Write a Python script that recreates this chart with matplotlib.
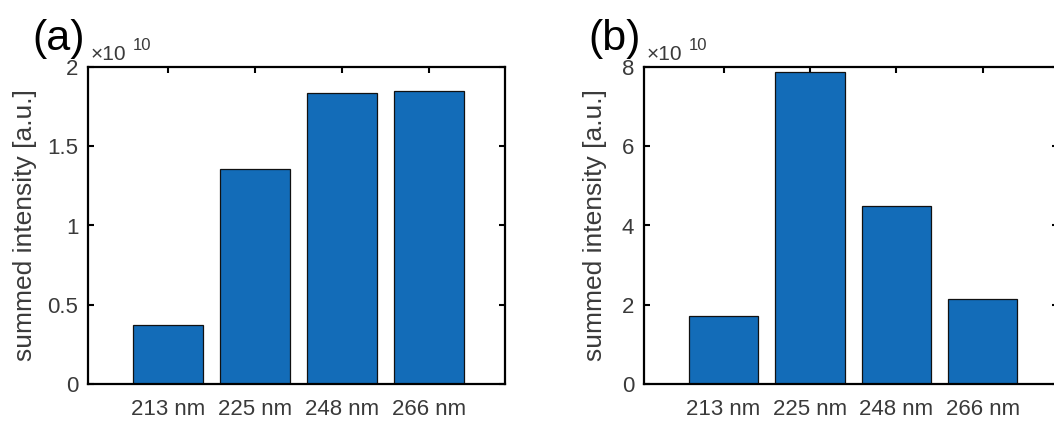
import numpy as np
import matplotlib
matplotlib.use('Agg')
import matplotlib.pyplot as plt

# =============================================================================
# DATA
# =============================================================================
labels = ['213 nm', '225 nm', '248 nm', '266 nm']

# summed intensities (a.u.)
intensA = [0.372e10, 1.356e10, 1.834e10, 1.850e10]
intensB = [1.72e10, 7.87e10, 4.48e10, 2.15e10]

yticksA = [0, 0.5, 1, 1.5, 2]
yticksB = [0, 2, 4, 6, 8]
scale = 1e10

# =============================================================================
# STYLE
# =============================================================================
plt.rcParams['font.family'] = ['Liberation Sans', 'DejaVu Sans']
barCol = '#136cb8'
txtCol = '#3a3a3a'

W, H = 1054, 423
fig = plt.figure(figsize=(W / 100, H / 100), dpi=100)


def panel(x0, w, vals, yticks, tag, ylab_x):
  ax = fig.add_axes([x0 / W, 1 - 384 / H, w / W, 317 / H])
  pos = np.arange(1, len(vals) + 1)
  ax.bar(pos, np.array(vals) / scale, width=0.8, color=barCol,
         edgecolor='#111111', linewidth=0.9, zorder=2)
  ax.set_xlim(0.08, 4.87)
  ax.set_ylim(yticks[0], yticks[-1])
  ax.set_xticks(pos)
  ax.set_xticklabels(labels)
  ax.set_yticks(yticks)
  ax.set_yticklabels(['%g' % v for v in yticks])
  ax.tick_params(direction='in', length=4, width=1.5, top=True, right=True,
                 labelsize=16, labelcolor=txtCol, zorder=3)
  ax.tick_params(axis='x', pad=11)
  ax.tick_params(axis='y', pad=7)
  for s in ax.spines.values():
    s.set_linewidth(1.6)
    s.set_zorder(4)
  ax.set_ylabel('summed intensity [a.u.]', fontsize=19, color=txtCol)
  ax.yaxis.set_label_coords(ylab_x, 0.5)

  # exponent label
  px = 1.0 / w
  py = 1.0 / 317
  ax.text(3 * px, 1 + 7 * py, '×10', transform=ax.transAxes, fontsize=15,
          color=txtCol, ha='left', va='baseline')
  ax.text(45 * px, 1 + 17 * py, '10', transform=ax.transAxes, fontsize=12,
          color=txtCol, ha='left', va='baseline')

  fig.text((x0 - 56) / W, 1 - 50 / H, tag, fontsize=31, color='black',
           ha='left', va='baseline')
  return ax


panel(88, 417, intensA, yticksA, '(a)', -0.122)
panel(644, 414, intensB, yticksB, '(b)', -0.089)

fig.savefig('out.png', dpi=100)
